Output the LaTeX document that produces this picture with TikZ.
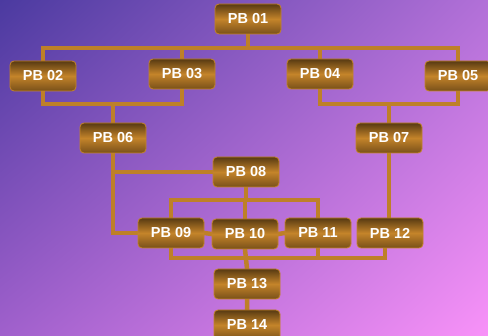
\documentclass[tikz,border=0pt]{standalone}
\usepackage{fontspec}
\setmainfont{Liberation Sans}
\usetikzlibrary{backgrounds,shadings}

\definecolor{bgTL}{RGB}{75,58,160}
\definecolor{bgTR}{RGB}{178,112,216}
\definecolor{bgBL}{RGB}{160,96,204}
\definecolor{bgBR}{RGB}{248,146,248}
\definecolor{pbDark}{RGB}{88,58,18}
\definecolor{pbGold}{RGB}{196,132,42}
\definecolor{wire}{RGB}{190,128,40}

\tikzset{
    pbbox/.style={rounded corners=4pt, draw=pbGold, line width=0.8pt,
        top color=pbDark, bottom color=pbDark!70!pbGold, middle color=pbGold,
        minimum width=66pt, minimum height=30pt, inner sep=0pt,
        text=white, font=\fontsize{14.5}{16}\selectfont\bfseries},
    wireline/.style={draw=wire, line width=4.5pt, line cap=rect}
}

\begin{document}
\begin{tikzpicture}[x=1pt,y=-1pt]
        \clip (0,0) rectangle (488,336);
        \useasboundingbox (0,0) rectangle (488,336);

        % --- Draw boxes ---
        \node[pbbox] (p01) at (248,19) {PB 01};
        \node[pbbox] (p02) at (43,76) {PB 02};
        \node[pbbox] (p03) at (182,74) {PB 03};
        \node[pbbox] (p04) at (320,74) {PB 04};
        \node[pbbox] (p05) at (458,76) {PB 05};
        \node[pbbox] (p06) at (113,138) {PB 06};
        \node[pbbox] (p07) at (389,138) {PB 07};
        \node[pbbox] (p08) at (246,172) {PB 08};
        \node[pbbox] (p09) at (171,233) {PB 09};
        \node[pbbox] (p10) at (245,234) {PB 10};
        \node[pbbox] (p11) at (318,233) {PB 11};
        \node[pbbox] (p12) at (390,233) {PB 12};
        \node[pbbox] (p13) at (247,284) {PB 13};
        \node[pbbox] (p14) at (247,325) {PB 14};
        % ---

        \begin{pgfonlayer}{background}
        % --- Draw background ---
        \shade[upper left=bgTL, upper right=bgTR, lower left=bgBL, lower right=bgBR]
            (0,0) rectangle (488,336);
        % ---

        % --- Draw wires ---
        \coordinate (busA) at (0,48);
        \coordinate (busB) at (0,104);
        \coordinate (busC) at (0,200);
        \coordinate (busD) at (0,258);
        \draw[wireline] (p01.south) -- (p01.south |- busA);
        \draw[wireline] (p02.north) |- (p05.north |- busA) -- (p05.north);
        \draw[wireline] (p03.north) -- (p03.north |- busA) (p04.north) -- (p04.north |- busA);
        \draw[wireline] (p02.south) |- (p03.south |- busB) -- (p03.south);
        \draw[wireline] (p04.south) |- (p05.south |- busB) -- (p05.south);
        \draw[wireline] (p06.north) -- (p06.north |- busB) (p07.north) -- (p07.north |- busB);
        \draw[wireline] (p06.south) |- (p09.west);
        \draw[wireline] (p08.west) -- (p08.west -| p06.south);
        \draw[wireline] (p08.south) -- (p08.south |- busC);
        \draw[wireline] (p09.north) |- (p11.north |- busC) -- (p11.north);
        \draw[wireline] (p10.north) -- (p10.north |- busC);
        \draw[wireline] (p07.south) -- (p07.south |- p12.north);
        \draw[wireline] (p09.east) -- (p10.west) (p10.east) -- (p11.west);
        \draw[wireline] (p09.south) |- ([xshift=-5pt]p12.south |- busD) -- ([xshift=-5pt]p12.south);
        \draw[wireline] (p11.south) -- (p11.south |- busD);
        \draw[wireline] (p10.south) -- (p13.north) (p13.south) -- (p14.north);
        % ---
        \end{pgfonlayer}
    \end{tikzpicture}
\end{document}
